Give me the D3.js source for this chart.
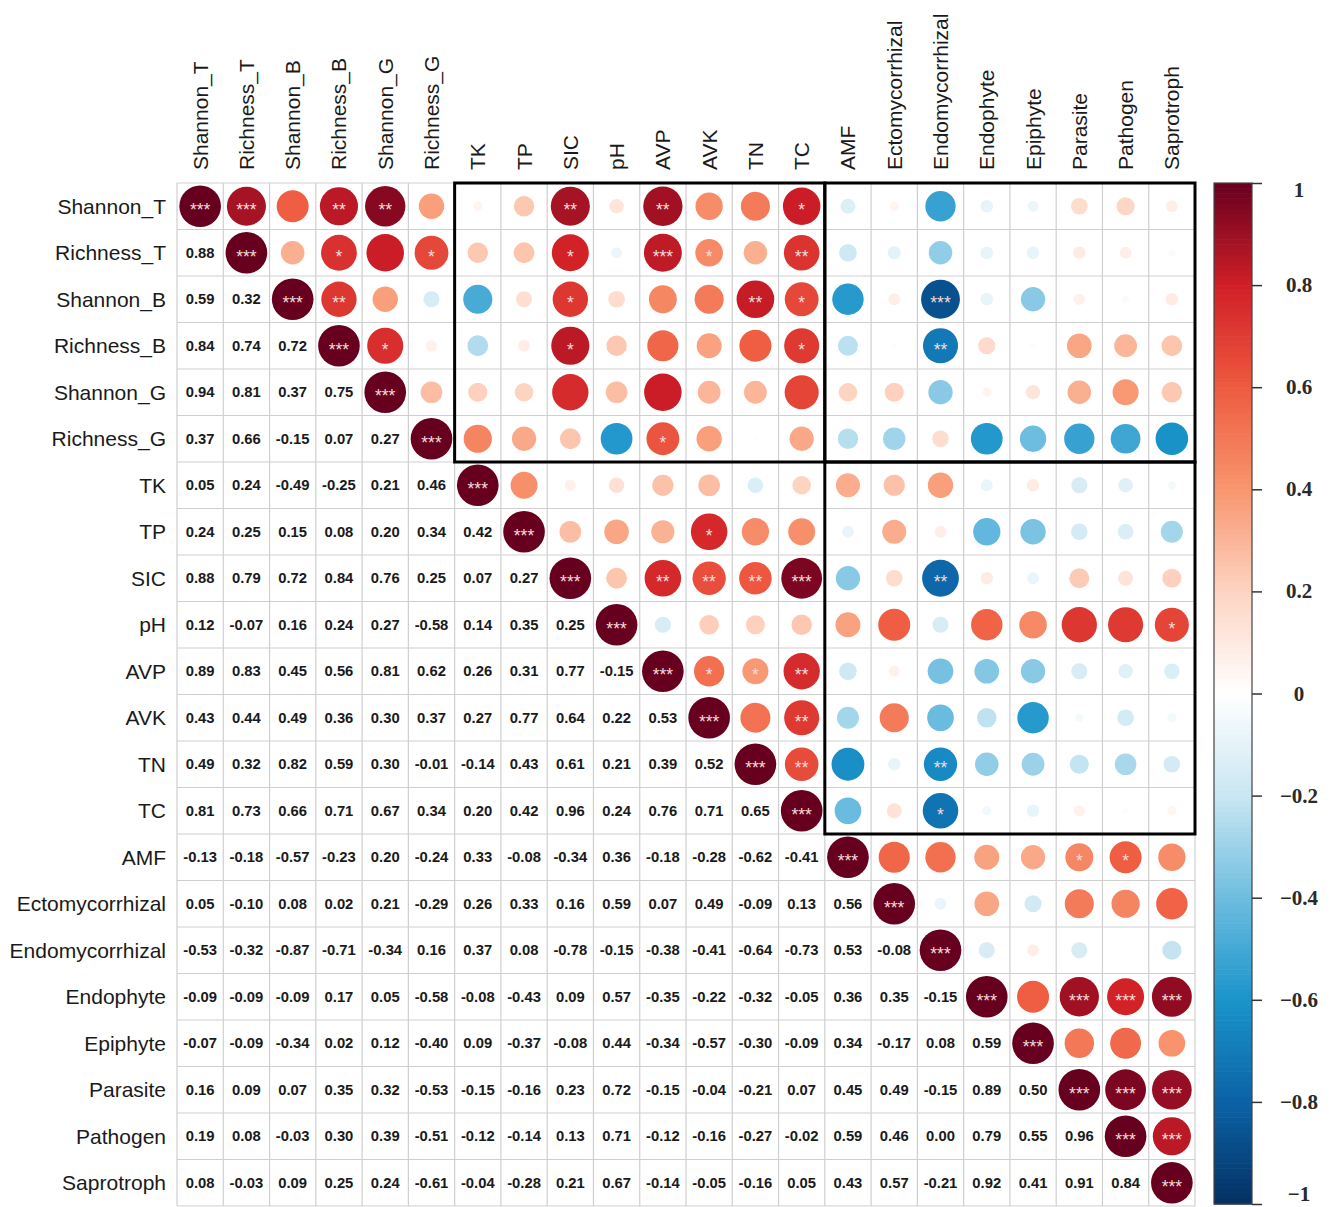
<!DOCTYPE html>
<html>
<head>
<meta charset="utf-8">
<script src="https://cdn.jsdelivr.net/npm/d3@7"></script>
<style>
  html, body { margin: 0; padding: 0; background: #ffffff; }
  svg { display: block; }
</style>
</head>
<body>
<svg id="chart" width="1341" height="1207"></svg>
<script>
// Variables, in matrix order
const varNames = [
  "Shannon_T", "Richness_T", "Shannon_B", "Richness_B", "Shannon_G", "Richness_G",
  "TK", "TP", "SIC", "pH", "AVP", "AVK", "TN", "TC",
  "AMF", "Ectomycorrhizal", "Endomycorrhizal", "Endophyte", "Epiphyte",
  "Parasite", "Pathogen", "Saprotroph"
];

// Lower triangle of the correlation matrix: row i holds r(i, 0..i-1)
const corrLower = [
  [],
  [0.88],
  [0.59, 0.32],
  [0.84, 0.74, 0.72],
  [0.94, 0.81, 0.37, 0.75],
  [0.37, 0.66, -0.15, 0.07, 0.27],
  [0.05, 0.24, -0.49, -0.25, 0.21, 0.46],
  [0.24, 0.25, 0.15, 0.08, 0.20, 0.34, 0.42],
  [0.88, 0.79, 0.72, 0.84, 0.76, 0.25, 0.07, 0.27],
  [0.12, -0.07, 0.16, 0.24, 0.27, -0.58, 0.14, 0.35, 0.25],
  [0.89, 0.83, 0.45, 0.56, 0.81, 0.62, 0.26, 0.31, 0.77, -0.15],
  [0.43, 0.44, 0.49, 0.36, 0.30, 0.37, 0.27, 0.77, 0.64, 0.22, 0.53],
  [0.49, 0.32, 0.82, 0.59, 0.30, -0.01, -0.14, 0.43, 0.61, 0.21, 0.39, 0.52],
  [0.81, 0.73, 0.66, 0.71, 0.67, 0.34, 0.20, 0.42, 0.96, 0.24, 0.76, 0.71, 0.65],
  [-0.13, -0.18, -0.57, -0.23, 0.20, -0.24, 0.33, -0.08, -0.34, 0.36, -0.18, -0.28, -0.62, -0.41],
  [0.05, -0.10, 0.08, 0.02, 0.21, -0.29, 0.26, 0.33, 0.16, 0.59, 0.07, 0.49, -0.09, 0.13, 0.56],
  [-0.53, -0.32, -0.87, -0.71, -0.34, 0.16, 0.37, 0.08, -0.78, -0.15, -0.38, -0.41, -0.64, -0.73, 0.53, -0.08],
  [-0.09, -0.09, -0.09, 0.17, 0.05, -0.58, -0.08, -0.43, 0.09, 0.57, -0.35, -0.22, -0.32, -0.05, 0.36, 0.35, -0.15],
  [-0.07, -0.09, -0.34, 0.02, 0.12, -0.40, 0.09, -0.37, -0.08, 0.44, -0.34, -0.57, -0.30, -0.09, 0.34, -0.17, 0.08, 0.59],
  [0.16, 0.09, 0.07, 0.35, 0.32, -0.53, -0.15, -0.16, 0.23, 0.72, -0.15, -0.04, -0.21, 0.07, 0.45, 0.49, -0.15, 0.89, 0.50],
  [0.19, 0.08, -0.03, 0.30, 0.39, -0.51, -0.12, -0.14, 0.13, 0.71, -0.12, -0.16, -0.27, -0.02, 0.59, 0.46, 0.00, 0.79, 0.55, 0.96],
  [0.08, -0.03, 0.09, 0.25, 0.24, -0.61, -0.04, -0.28, 0.21, 0.67, -0.14, -0.05, -0.16, 0.05, 0.43, 0.57, -0.21, 0.92, 0.41, 0.91, 0.84]
];

// Significance marks shown on the circles (pairs off the diagonal)
const sigPairs = [
  ["Shannon_T", "Richness_T", "***"], ["Shannon_T", "Richness_B", "**"], ["Shannon_T", "Shannon_G", "**"],
  ["Shannon_T", "SIC", "**"], ["Shannon_T", "AVP", "**"], ["Shannon_T", "TC", "*"],
  ["Richness_T", "Richness_B", "*"], ["Richness_T", "Richness_G", "*"], ["Richness_T", "SIC", "*"],
  ["Richness_T", "AVP", "***"], ["Richness_T", "AVK", "*"], ["Richness_T", "TC", "**"],
  ["Shannon_B", "Richness_B", "**"], ["Shannon_B", "SIC", "*"], ["Shannon_B", "TN", "**"],
  ["Shannon_B", "TC", "*"], ["Shannon_B", "Endomycorrhizal", "***"],
  ["Richness_B", "Shannon_G", "*"], ["Richness_B", "SIC", "*"], ["Richness_B", "TC", "*"],
  ["Richness_B", "Endomycorrhizal", "**"],
  ["Richness_G", "AVP", "*"],
  ["TP", "AVK", "*"],
  ["SIC", "AVP", "**"], ["SIC", "AVK", "**"], ["SIC", "TN", "**"], ["SIC", "TC", "***"],
  ["SIC", "Endomycorrhizal", "**"],
  ["pH", "Saprotroph", "*"],
  ["AVP", "AVK", "*"], ["AVP", "TN", "*"], ["AVP", "TC", "**"],
  ["AVK", "TC", "**"],
  ["TN", "TC", "**"], ["TN", "Endomycorrhizal", "**"],
  ["TC", "Endomycorrhizal", "*"],
  ["AMF", "Parasite", "*"], ["AMF", "Pathogen", "*"],
  ["Endophyte", "Parasite", "***"], ["Endophyte", "Pathogen", "***"], ["Endophyte", "Saprotroph", "***"],
  ["Parasite", "Pathogen", "***"], ["Parasite", "Saprotroph", "***"],
  ["Pathogen", "Saprotroph", "***"]
];

// Highlighted blocks: [first row, last row, first col, last col]
const blocks = [
  ["Shannon_T", "Richness_G", "TK", "TC"],
  ["Shannon_T", "Richness_G", "AMF", "Saprotroph"],
  ["TK", "TC", "AMF", "Saprotroph"]
];

// Colour-bar tick values
const legendTicks = [1, 0.8, 0.6, 0.4, 0.2, 0, -0.2, -0.4, -0.6, -0.8, -1];

// ---------------------------------------------------------------
const svg = d3.select("#chart");
const grid = { left: 177, right: 1195, top: 183, bottom: 1206 };

const x = d3.scaleBand().domain(varNames).range([grid.left, grid.right]).padding(0);
const y = d3.scaleBand().domain(varNames).range([grid.top, grid.bottom]).padding(0);
const cw = x.bandwidth(), ch = y.bandwidth();

const color = d3.scaleLinear()
  .domain([-1, -0.8, -0.6, -0.4, -0.2, 0, 0.2, 0.4, 0.6, 0.8, 1])
  .range(["#053061", "#0b62a6", "#1a94ca", "#6dbde0", "#c9e6f2", "#ffffff",
          "#fdd4c2", "#f8966f", "#ee5a40", "#d01f27", "#67001f"])
  .interpolate(d3.interpolateRgb);

const radius = d3.scaleSqrt().domain([0, 1]).range([0, 0.45 * Math.min(cw, ch)]);

function corr(i, j) {
  if (i === j) return 1;
  return i > j ? corrLower[i][j] : corrLower[j][i];
}
const starMap = new Map();
sigPairs.forEach(([a, b, s]) => { starMap.set(a + "|" + b, s); starMap.set(b + "|" + a, s); });

// cells
const cells = [];
varNames.forEach((rn, i) => varNames.forEach((cn, j) => {
  cells.push({ row: rn, col: cn, i, j, r: corr(i, j),
    stars: i === j ? "***" : (starMap.get(rn + "|" + cn) || "") });
}));

// grid lines
const gGrid = svg.append("g");
gGrid.selectAll("line.v").data(d3.range(varNames.length + 1)).join("line")
  .attr("x1", k => grid.left + k * cw).attr("x2", k => grid.left + k * cw)
  .attr("y1", grid.top).attr("y2", grid.bottom)
  .attr("stroke", "#cfcfcf").attr("stroke-width", 1.2);
gGrid.selectAll("line.h").data(d3.range(varNames.length + 1)).join("line")
  .attr("y1", k => grid.top + k * ch).attr("y2", k => grid.top + k * ch)
  .attr("x1", grid.left).attr("x2", grid.right)
  .attr("stroke", "#cfcfcf").attr("stroke-width", 1.2);

// upper triangle + diagonal: circles
const upper = cells.filter(d => d.i <= d.j);
svg.append("g").selectAll("circle").data(upper).join("circle")
  .attr("cx", d => x(d.col) + cw / 2)
  .attr("cy", d => y(d.row) + ch / 2)
  .attr("r", d => radius(Math.abs(d.r)))
  .attr("fill", d => color(d.r));

svg.append("g").selectAll("text").data(upper.filter(d => d.stars)).join("text")
  .attr("x", d => x(d.col) + cw / 2)
  .attr("y", d => y(d.row) + ch / 2 + 10)
  .attr("text-anchor", "middle")
  .attr("font-family", "Liberation Sans, Arial, sans-serif")
  .attr("font-size", 17.5)
  .attr("fill", "#f4dada")
  .text(d => d.stars);

// lower triangle: coefficients
svg.append("g").selectAll("text").data(cells.filter(d => d.i > d.j)).join("text")
  .attr("x", d => x(d.col) + cw / 2)
  .attr("y", d => y(d.row) + ch / 2)
  .attr("text-anchor", "middle")
  .attr("dominant-baseline", "central")
  .attr("font-family", "Liberation Sans, Arial, sans-serif")
  .attr("font-weight", "bold")
  .attr("font-size", 14.8)
  .attr("fill", "#1a1a1a")
  .text(d => d.r.toFixed(2));

// highlighted blocks
svg.append("g").selectAll("rect").data(blocks).join("rect")
  .attr("x", d => x(d[2]))
  .attr("y", d => y(d[0]))
  .attr("width", d => x(d[3]) + cw - x(d[2]))
  .attr("height", d => y(d[1]) + ch - y(d[0]))
  .attr("fill", "none").attr("stroke", "#000").attr("stroke-width", 3);

// row labels
svg.append("g").selectAll("text").data(varNames).join("text")
  .attr("x", 166)
  .attr("y", d => y(d) + ch / 2)
  .attr("text-anchor", "end")
  .attr("dominant-baseline", "central")
  .attr("font-family", "Liberation Sans, Arial, sans-serif")
  .attr("font-size", 21)
  .attr("fill", "#1a1a1a")
  .text(d => d);

// column labels
svg.append("g").selectAll("text").data(varNames).join("text")
  .attr("transform", d => `translate(${x(d) + cw / 2},170) rotate(-90)`)
  .attr("text-anchor", "start")
  .attr("dominant-baseline", "central")
  .attr("font-family", "Liberation Sans, Arial, sans-serif")
  .attr("font-size", 21)
  .attr("fill", "#1a1a1a")
  .text(d => d);

// colour bar
const bar = { x: 1214, w: 38 };
const ly = d3.scaleLinear().domain([-1, 1]).range([1204, 183]);
const steps = d3.range(200).map(k => -1 + (k + 0.5) * 2 / 200);
const gBar = svg.append("g");
gBar.selectAll("rect").data(steps).join("rect")
  .attr("x", bar.x)
  .attr("y", v => ly(v + 1 / 200))
  .attr("width", bar.w)
  .attr("height", v => ly(v - 1 / 200) - ly(v + 1 / 200) + 0.6)
  .attr("fill", v => color(v));
gBar.append("rect")
  .attr("x", bar.x).attr("y", ly(1)).attr("width", bar.w).attr("height", ly(-1) - ly(1))
  .attr("fill", "none").attr("stroke", "#444").attr("stroke-width", 1.2);

const axis = d3.axisRight(ly).tickValues(legendTicks).tickSize(10).tickFormat("");
const gAxis = gBar.append("g").attr("transform", `translate(${bar.x + bar.w},0)`).call(axis);
gAxis.select(".domain").remove();
gAxis.selectAll(".tick line").attr("stroke", "#333").attr("stroke-width", 1.5);

gBar.selectAll("text.lab").data(legendTicks).join("text")
  .attr("class", "lab")
  .attr("x", 1299)
  .attr("y", v => Math.min(Math.max(ly(v), 190), 1194))
  .attr("text-anchor", "middle")
  .attr("dominant-baseline", "central")
  .attr("font-family", "Liberation Serif, Times New Roman, serif")
  .attr("font-weight", "bold")
  .attr("font-size", 21)
  .attr("fill", "#2a2a2a")
  .text(v => v === 0 ? "0" : (v < 0 ? "\u2212" : "") + String(Math.abs(v)));
</script>
</body>
</html>
